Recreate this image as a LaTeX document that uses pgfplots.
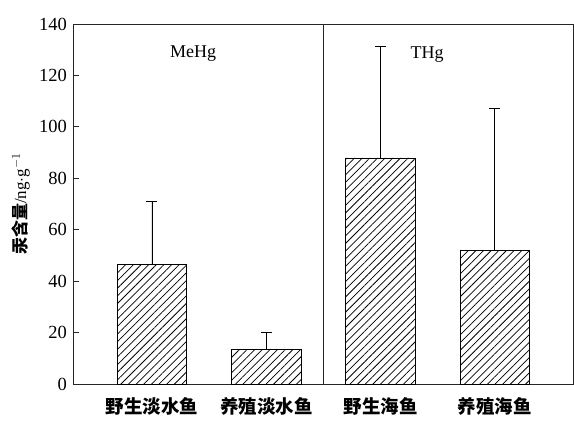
\documentclass[border=0pt]{standalone}
\usepackage{fontspec}
\setmainfont{Liberation Serif}
\newfontfamily\cjk{Noto Sans CJK SC}
\usepackage{pgfplots}
\pgfplotsset{compat=1.18}
\usetikzlibrary{patterns.meta}

\begin{document}
\fontsize{18bp}{21bp}\selectfont
\begin{tikzpicture}
% fixed canvas
\path (0,0) rectangle (574bp,413bp);
\begin{axis}[
  at={(73bp,29bp)}, anchor=south west,
  width=500bp, height=360bp, scale only axis,
  xmin=-0.691, xmax=3.683,
  ymin=0, ymax=140,
  ytick={0,20,...,140},
  xtick={0,1,2,3},
  xticklabels={{\cjk\bfseries 野生淡水鱼},{\cjk\bfseries 养殖淡水鱼},{\cjk\bfseries 野生海鱼},{\cjk\bfseries 养殖海鱼}},
  major x tick style={draw=none},
  ytick pos=left,
  tick align=inside,
  major tick length=6bp,
  axis line style={black!85, line width=0.9bp},
  every tick/.style={black!85, line width=0.9bp},
  /pgf/number format/assume math mode=true,
  ticklabel style={font=\fontsize{18.5bp}{21bp}\selectfont},
  xticklabel style={yshift=-1bp},
  ylabel={{\cjk\bfseries 汞含量}/ng$\cdot$g$^{-1}$},
  ylabel style={font=\fontsize{17bp}{20bp}\selectfont, yshift=-3bp},
  ybar, bar width=0.61,
  clip=false,
]
\addplot+[ybar, draw=black, line width=0.9bp,
  fill=none,
  pattern={Lines[angle=45, distance=5.4bp, line width=0.75bp]},
  pattern color=black,
  error bars/.cd, y dir=plus, y explicit,
  error bar style={black, line width=0.9bp},
  error mark options={rotate=90, mark size=5.5bp, line width=0.9bp, black}]
coordinates {
  (0,46.3) +- (0,24.5)
  (1,13.6) +- (0,6.4)
  (2,87.9) +- (0,43.3)
  (3,51.8) +- (0,55.4)
};
\draw[black!85, line width=0.9bp] (axis cs:1.496,0) -- (axis cs:1.496,140);
\node[font=\fontsize{18bp}{21bp}\selectfont] at (axis cs:0.359,128.6) {MeHg};
\node[font=\fontsize{18bp}{21bp}\selectfont] at (axis cs:2.406,128.2) {THg};
\end{axis}
\end{tikzpicture}
\end{document}
